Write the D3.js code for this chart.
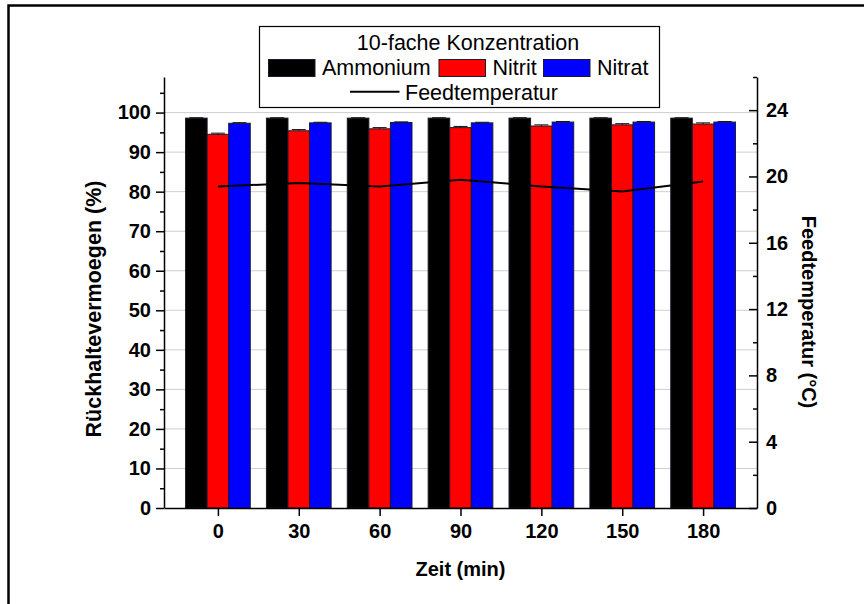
<!DOCTYPE html>
<html>
<head>
<meta charset="utf-8">
<script src="https://cdn.jsdelivr.net/npm/d3@7"></script>
<style>
  body { margin: 0; background: #fff; }
  svg { display: block; font-family: "Liberation Sans", Arial, sans-serif; }
</style>
</head>
<body>
<div id="chart"></div>
<script>
// data
const times = [0, 30, 60, 90, 120, 150, 180];
const ammonium = [98.6, 98.6, 98.6, 98.6, 98.6, 98.6, 98.6];
const nitrit = [94.5, 95.4, 95.9, 96.2, 96.6, 96.9, 97.1];
const nitrat = [97.3, 97.4, 97.5, 97.4, 97.6, 97.6, 97.6];
const errAmmonium = [0.1, 0.1, 0.1, 0.1, 0.1, 0.1, 0.1];
const errNitrit = [0.3, 0.3, 0.3, 0.3, 0.3, 0.3, 0.3];
const errNitrat = [0.15, 0.15, 0.15, 0.15, 0.15, 0.15, 0.15];
const feedTemp = [19.4, 19.6, 19.4, 19.8, 19.4, 19.1, 19.7];
const leftTicks = [0, 10, 20, 30, 40, 50, 60, 70, 80, 90, 100];
const rightTicks = [0, 4, 8, 12, 16, 20, 24];

const series = [
  {name: "Ammonium", values: ammonium, err: errAmmonium, color: "#000000", offset: -8},
  {name: "Nitrit", values: nitrit, err: errNitrit, color: "#ff0000", offset: 0},
  {name: "Nitrat", values: nitrat, err: errNitrat, color: "#0000ff", offset: 8}
];

document.addEventListener("DOMContentLoaded", draw);

function draw() {
  const width = 864, height = 604;
  const plot = {left: 164, right: 757, top: 77, bottom: 508};

  const svg = d3.select("#chart").append("svg")
      .attr("width", width)
      .attr("height", height);

  // outer frame (only left and top edges are visible in the picture)
  svg.append("path")
      .attr("d", `M8.5,${height} V5.5 H${width}`)
      .attr("fill", "none")
      .attr("stroke", "#000")
      .attr("stroke-width", 2.5);

  const x = d3.scaleLinear().domain([-20, 200]).range([plot.left, plot.right]);
  const yL = d3.scaleLinear().domain([0, 109]).range([plot.bottom, plot.top]);
  const yR = d3.scaleLinear().domain([0, 26]).range([plot.bottom, plot.top]);
  const barW = x(8) - x(0);

  // grid lines
  svg.append("g")
      .selectAll("line")
      .data(leftTicks.filter(d => d > 0))
      .enter().append("line")
      .attr("x1", plot.left).attr("x2", plot.right)
      .attr("y1", d => yL(d)).attr("y2", d => yL(d))
      .attr("stroke", "#cfcfcf")
      .attr("stroke-width", 1);

  // bars
  series.forEach(s => {
    const g = svg.append("g");
    g.selectAll("rect")
        .data(times)
        .enter().append("rect")
        .attr("x", (t) => x(t + s.offset) - barW / 2)
        .attr("width", barW)
        .attr("y", (t, i) => yL(s.values[i]))
        .attr("height", (t, i) => yL(0) - yL(s.values[i]))
        .attr("fill", s.color)
        .attr("stroke", "#1a1a2a")
        .attr("stroke-width", 1);
    // small error bars on top
    g.selectAll("path.err")
        .data(times)
        .enter().append("path")
        .attr("class", "err")
        .attr("d", (t, i) => {
          const cx = x(t + s.offset);
          const y0 = yL(s.values[i]), y1 = yL(s.values[i] + s.err[i]);
          return `M${cx},${y0} V${y1} M${cx - 7},${y1} H${cx + 7}`;
        })
        .attr("fill", "none")
        .attr("stroke", "#111")
        .attr("stroke-width", 1);
  });

  // feed temperature line
  const line = d3.line()
      .x((d, i) => x(times[i]))
      .y(d => yR(d));
  svg.append("path")
      .datum(feedTemp)
      .attr("d", line)
      .attr("fill", "none")
      .attr("stroke", "#000")
      .attr("stroke-width", 2);

  // axes
  const tickFont = g => g.selectAll("text")
      .attr("font-size", 20)
      .attr("font-weight", "bold")
      .attr("font-family", "'Liberation Sans', Arial, sans-serif")
      .attr("fill", "#000");
  const axisStyle = g => {
    g.select(".domain").attr("stroke-width", 1.5);
    g.selectAll(".tick line").attr("stroke-width", 1.5);
  };

  svg.append("g")
      .attr("transform", `translate(${plot.left},0)`)
      .call(d3.axisLeft(yL).tickValues(leftTicks).tickSize(8).tickSizeOuter(0).tickPadding(5))
      .call(tickFont).call(axisStyle);
  svg.append("g")
      .attr("transform", `translate(${plot.left},0)`)
      .call(d3.axisLeft(yL).tickValues(d3.range(5, 110, 10)).tickSize(4).tickSizeOuter(0).tickFormat(""))
      .call(axisStyle)
      .select(".domain").remove();

  svg.append("g")
      .attr("transform", `translate(${plot.right},0)`)
      .call(d3.axisRight(yR).tickValues(rightTicks).tickSize(-8).tickSizeOuter(0).tickPadding(9))
      .call(tickFont).call(axisStyle);
  svg.append("g")
      .attr("transform", `translate(${plot.right},0)`)
      .call(d3.axisRight(yR).tickValues(d3.range(2, 27, 4)).tickSize(-4).tickSizeOuter(0).tickFormat(""))
      .call(axisStyle)
      .select(".domain").remove();

  svg.append("g")
      .attr("transform", `translate(0,${plot.bottom})`)
      .call(d3.axisBottom(x).tickValues(times).tickSize(8).tickSizeOuter(0).tickPadding(8))
      .call(tickFont).call(axisStyle);

  // axis titles
  svg.append("text")
      .attr("x", (plot.left + plot.right) / 2)
      .attr("y", 576)
      .attr("text-anchor", "middle")
      .attr("font-size", 20)
      .attr("font-weight", "bold")
      .text("Zeit (min)");

  svg.append("text")
      .attr("transform", `translate(101,309) rotate(-90)`)
      .attr("text-anchor", "middle")
      .attr("font-size", 21.5)
      .attr("font-weight", "bold")
      .text("Rückhaltevermoegen (%)");

  svg.append("text")
      .attr("transform", `translate(802,312) rotate(90)`)
      .attr("text-anchor", "middle")
      .attr("font-size", 20)
      .attr("font-weight", "bold")
      .text("Feedtemperatur (°C)");

  // legend
  const lg = svg.append("g");
  lg.append("rect")
      .attr("x", 259.5).attr("y", 26.5)
      .attr("width", 400).attr("height", 81)
      .attr("fill", "#fff")
      .attr("stroke", "#000")
      .attr("stroke-width", 1.2);
  lg.append("text")
      .attr("x", 468).attr("y", 49.5)
      .attr("text-anchor", "middle")
      .attr("font-size", 21.5)
      .text("10-fache Konzentration");

  const swatchX = [268.5, 439, 543.5];
  series.forEach((s, i) => {
    lg.append("rect")
        .attr("x", swatchX[i]).attr("y", 59.5)
        .attr("width", 46.5).attr("height", 17)
        .attr("fill", s.color)
        .attr("stroke", "#1a1a2a")
        .attr("stroke-width", 1);
    lg.append("text")
        .attr("x", swatchX[i] + 53.5).attr("y", 75)
        .attr("font-size", 21.5)
        .text(s.name);
  });
  lg.append("line")
      .attr("x1", 350).attr("x2", 399.5)
      .attr("y1", 91.7).attr("y2", 91.7)
      .attr("stroke", "#000")
      .attr("stroke-width", 2);
  lg.append("text")
      .attr("x", 405).attr("y", 99.5)
      .attr("font-size", 21.5)
      .text("Feedtemperatur");
}
</script>
</body>
</html>
